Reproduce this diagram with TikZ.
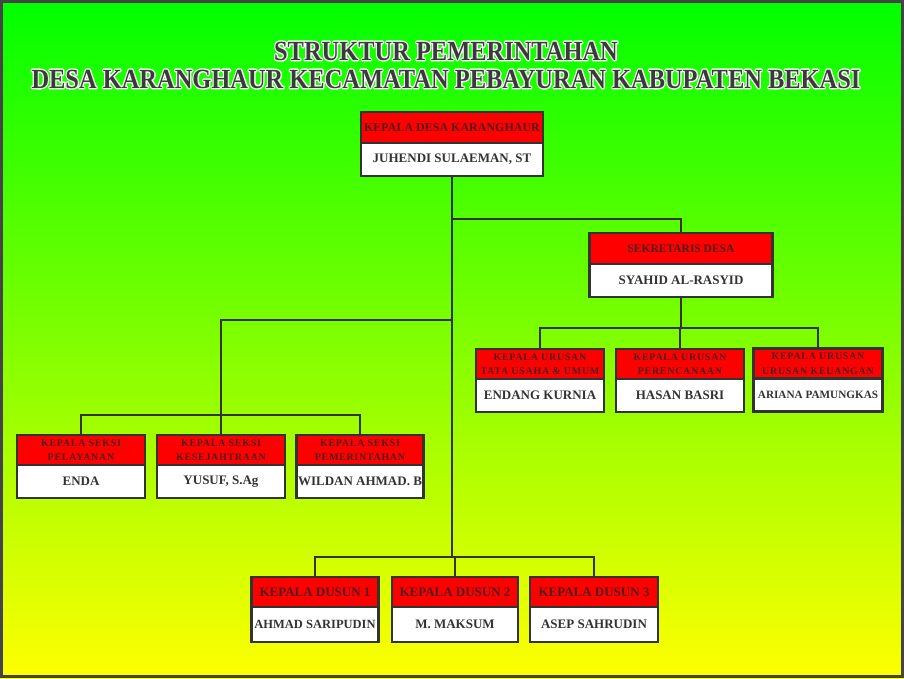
\documentclass[tikz,border=0pt]{standalone}
\usepackage{fontspec}
\setmainfont{Liberation Serif}
\newfontfamily\hdrfont[LetterSpace=7]{Liberation Serif}
\usetikzlibrary{positioning,calc}

\definecolor{boxline}{RGB}{51,51,51}
\definecolor{hdrtext}{RGB}{80,28,28}
\definecolor{nametext}{RGB}{51,51,51}
\definecolor{titletext}{RGB}{58,58,58}
\definecolor{frameline}{RGB}{68,68,68}
\definecolor{bgtop}{RGB}{0,255,0}
\definecolor{bgbottom}{RGB}{255,255,0}

% white outline behind the title letters
\newcommand\ttlout[1]{\rlap{\special{pdf:literal direct 1 Tr 2.4 w 1 1 1 RG 1 j}#1\special{pdf:literal direct 0 Tr}}#1}

\begin{document}
\begin{tikzpicture}[
  x=1pt, y=-1pt,
  wire/.style={draw=boxline, line width=2.4pt},
  hdr/.style={draw=boxline, line width=2.4pt, fill=red, text=hdrtext,
    outer sep=0pt, inner sep=0pt, align=center, minimum height=31pt,
    font=\hdrfont\bfseries\fontsize{10}{14.5}\selectfont},
  big/.style={font=\bfseries\fontsize{12}{12}\selectfont},
  nm/.style={draw=boxline, line width=2.4pt, fill=white, text=nametext,
    outer sep=0pt, inner sep=0pt, minimum height=33pt,
    font=\bfseries\fontsize{13}{13}\selectfont},
  ttl/.style={text=titletext, inner sep=0pt,
    font=\bfseries\fontsize{23.5}{24}\selectfont}
]

% background and frame
\useasboundingbox (0,0) rectangle (904,678);
\shade[top color=bgtop, bottom color=bgbottom] (0,0) rectangle (904,678);
\draw[frameline, line width=3pt] (1.5,1.5) rectangle (902.5,676.5);

% title
\node[ttl] (ttl1) at (446,51)
  {\scalebox{1.04}[1.18]{\ttlout{STRUKTUR PEMERINTAHAN}}};
\node[ttl] (ttl2) at (446,79)
  {\scalebox{1.04}[1.18]{\ttlout{DESA KARANGHAUR KECAMATAN PEBAYURAN KABUPATEN BEKASI}}};

% kepala desa
\node[hdr, big, minimum width=182pt] (kd) at (452,127.5) {KEPALA DESA KARANGHAUR};
\node[nm, minimum width=182pt, below=0pt of kd] (kdn) {JUHENDI SULAEMAN, ST};

% sekretaris
\node[hdr, font=\bfseries\fontsize{11.5}{12}\selectfont, minimum width=183pt]
  (sek) at (681,248.5) {SEKRETARIS DESA};
\node[nm, minimum width=183pt, below=0pt of sek] (sekn) {SYAHID AL-RASYID};

% kepala urusan
\node[hdr, minimum width=128pt, minimum height=30pt] (ur1) at (540,364)
  {KEPALA URUSAN\\TATA USAHA \& UMUM};
\node[nm, minimum width=128pt, below=0pt of ur1] (ur1n) {ENDANG KURNIA};
\node[hdr, minimum width=128pt, minimum height=30pt] (ur2) at (680,364)
  {KEPALA URUSAN\\PERENCANAAN};
\node[nm, minimum width=128pt, below=0pt of ur2] (ur2n) {HASAN BASRI};
\node[hdr, minimum width=129pt, minimum height=30pt] (ur3) at (818,363.5)
  {KEPALA URUSAN\\URUSAN KEUANGAN};
\node[nm, minimum width=129pt, below=0pt of ur3,
  font=\bfseries\fontsize{11.2}{12}\selectfont] (ur3n) {ARIANA PAMUNGKAS};

% kepala seksi
\node[hdr, minimum width=128pt, minimum height=30pt] (sk1) at (81,450)
  {KEPALA SEKSI\\PELAYANAN};
\node[nm, minimum width=128pt, below=0pt of sk1] (sk1n) {ENDA};
\node[hdr, minimum width=128pt, minimum height=30pt] (sk2) at (221,450)
  {KEPALA SEKSI\\KESEJAHTRAAN};
\node[nm, minimum width=128pt, below=0pt of sk2] (sk2n) {YUSUF, S.Ag};
\node[hdr, minimum width=127pt, minimum height=30pt] (sk3) at (360,450)
  {KEPALA SEKSI\\PEMERINTAHAN};
\node[nm, minimum width=127pt, below=0pt of sk3] (sk3n) {WILDAN AHMAD. B};

% kepala dusun
\node[hdr, font=\bfseries\fontsize{13}{13}\selectfont, minimum width=127pt,
  minimum height=30pt] (du1) at (315,592) {KEPALA DUSUN 1};
\node[nm, minimum width=127pt, minimum height=35pt, below=0pt of du1,
  font=\bfseries\fontsize{12.5}{13}\selectfont] (du1n) {AHMAD SARIPUDIN};
\node[hdr, font=\bfseries\fontsize{13}{13}\selectfont, minimum width=126pt,
  minimum height=30pt] (du2) at (455,592) {KEPALA DUSUN 2};
\node[nm, minimum width=126pt, minimum height=35pt, below=0pt of du2] (du2n) {M. MAKSUM};
\node[hdr, font=\bfseries\fontsize{13}{13}\selectfont, minimum width=128pt,
  minimum height=30pt] (du3) at (594,592) {KEPALA DUSUN 3};
\node[nm, minimum width=128pt, minimum height=35pt, below=0pt of du3] (du3n) {ASEP SAHRUDIN};

% bus levels
\coordinate (ysek) at (0,219);
\coordinate (yseksi) at (0,320);
\coordinate (ybseksi) at (0,415);
\coordinate (yur) at (0,328);
\coordinate (ydusun) at (0,557);

% connectors
\draw[wire] (kdn.south) -- (kdn.south |- ydusun);
\draw[wire] (kdn.south |- ysek) -| (sek.north);
\draw[wire] (kdn.south |- yseksi) -| (sk2.north);
\draw[wire] (sk1.north) -- (sk1.north |- ybseksi) -- (sk3.north |- ybseksi) -- (sk3.north);
\draw[wire] (sekn.south) -- (sekn.south |- yur);
\draw[wire] (ur1.north) -- (ur1.north |- yur) -- (ur3.north |- yur) -- (ur3.north);
\draw[wire] (ur2.north) -- (ur2.north |- yur);
\draw[wire] (du1.north) -- (du1.north |- ydusun) -- (du3.north |- ydusun) -- (du3.north);
\draw[wire] (du2.north) -- (du2.north |- ydusun);

\end{tikzpicture}
\end{document}
